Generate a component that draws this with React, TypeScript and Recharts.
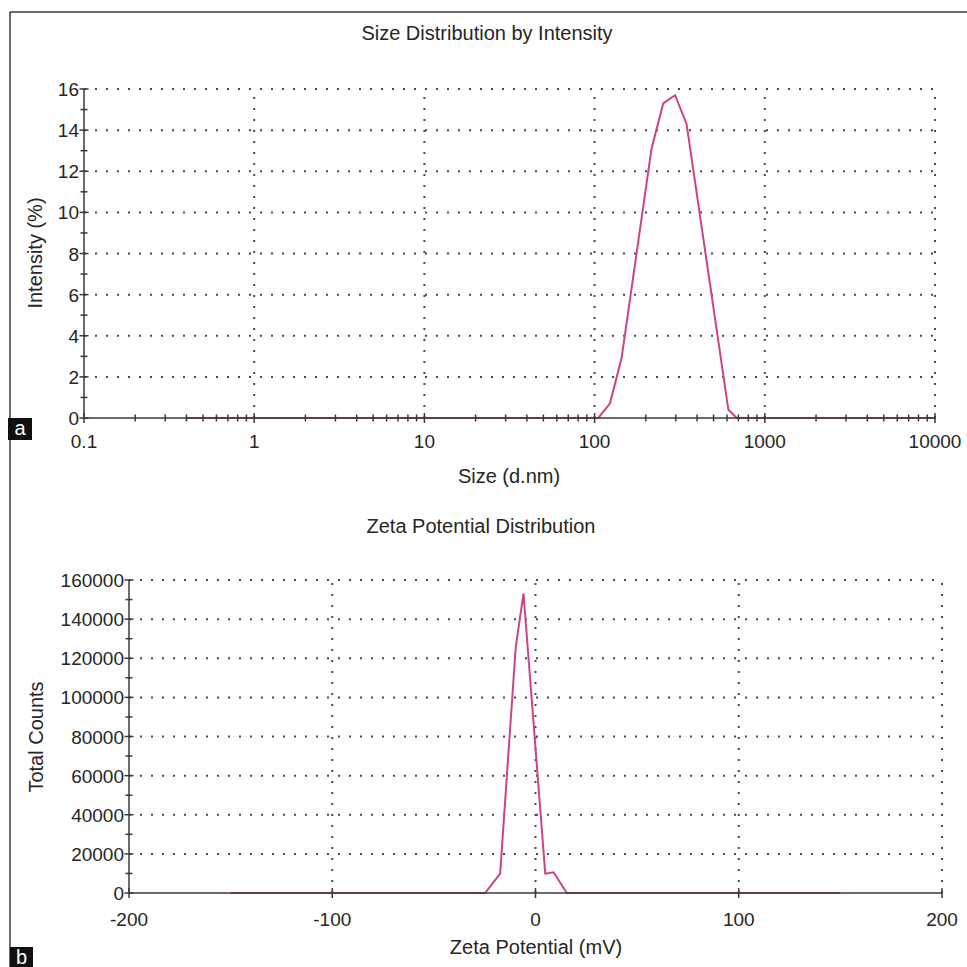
import React from "react";
import { LineChart, Line, XAxis, YAxis, ReferenceLine } from "recharts";

// ---- Chart a: Size distribution by intensity ----
const sizeNm = [0.4, 105, 123, 144, 216, 253, 297, 347, 611, 684, 10000];
const intensityPct = [0, 0, 0.7, 2.9, 13.1, 15.3, 15.7, 14.3, 0.4, 0, 0];
const sizeMajorTicks = [0.1, 1, 10, 100, 1000, 10000];
const sizeMinorFactors = [2, 3, 4, 5, 6, 7, 8, 9];
const intensityMajorTicks = [0, 2, 4, 6, 8, 10, 12, 14, 16];
const intensityMinorTicks = [1, 3, 5, 7, 9, 11, 13, 15];

// ---- Chart b: Zeta potential distribution ----
const zetaMv = [-150, -24.8, -17.4, -9.7, -5.9, 4.8, 8.9, 15.4, 150];
const totalCounts = [0, 0, 9900, 126000, 153000, 9900, 10600, 0, 0];
const zetaTicks = [-200, -100, 0, 100, 200];
const countMajorTicks = [0, 20000, 40000, 60000, 80000, 100000, 120000, 140000, 160000];
const countMinorTicks = [10000, 30000, 50000, 70000, 90000, 110000, 130000, 150000];

const sizeMinorTicks = sizeMajorTicks
  .slice(0, -1)
  .flatMap((d) => sizeMinorFactors.map((f) => +(d * f).toPrecision(6)));
const sizeAllTicks = [...sizeMajorTicks, ...sizeMinorTicks].sort((a, b) => a - b);
const intensityAllTicks = [...intensityMajorTicks, ...intensityMinorTicks].sort((a, b) => a - b);
const countAllTicks = [...countMajorTicks, ...countMinorTicks].sort((a, b) => a - b);

const sizeData = sizeNm.map((s, i) => ({ size: s, intensity: intensityPct[i] }));
const zetaData = zetaMv.map((z, i) => ({ zeta: z, counts: totalCounts[i] }));

const FONT = "'Liberation Sans', Arial, Helvetica, sans-serif";
const TXT = "#262626";
const AX = "#3a3a3a";
const GRID = "#4a4a4a";
const LINE = "#cc4488";
const TICK_FS = 19;
const TITLE_FS = 20;

function makeXTick(majors: number[], baselineOffset: number, withMinor: boolean) {
  return (props: any) => {
    const { x, y, payload } = props;
    const v = payload.value;
    const major = majors.includes(v);
    if (!major && !withMinor) return <g />;
    const h = major ? 5 : 3.5;
    return (
      <g>
        <line x1={x} x2={x} y1={y - h} y2={y + h} stroke={AX} strokeWidth={1.5} />
        {major && (
          <text x={x} y={y + baselineOffset} textAnchor="middle" fontSize={TICK_FS} fontFamily={FONT} fill={TXT}>
            {String(v)}
          </text>
        )}
      </g>
    );
  };
}

function makeYTick(majors: number[]) {
  return (props: any) => {
    const { x, y, payload } = props;
    const v = payload.value;
    const major = majors.includes(v);
    const h = major ? 4.5 : 3.5;
    return (
      <g>
        <line x1={x - h} x2={x + h} y1={y} y2={y} stroke={AX} strokeWidth={1.5} />
        {major && (
          <text x={x - 5} y={y + 7} textAnchor="end" fontSize={TICK_FS} fontFamily={FONT} fill={TXT}>
            {String(v)}
          </text>
        )}
      </g>
    );
  };
}

const gridProps = { stroke: GRID, strokeWidth: 2, strokeDasharray: "2 9" };

export default function App() {
  return (
    <div style={{ position: "absolute", left: 0, top: 0, width: 967, height: 967, background: "#fff" }}>
      <div style={{ position: "absolute", left: 0, top: 0 }}>
        <LineChart width={967} height={500} data={sizeData} margin={{ top: 89, right: 32, bottom: 0, left: 0 }}>
          <XAxis
            dataKey="size"
            type="number"
            scale="log"
            domain={[0.1, 10000]}
            allowDataOverflow
            ticks={sizeAllTicks}
            interval={0}
            tickSize={0}
            tickMargin={0}
            tickLine={false}
            tick={makeXTick(sizeMajorTicks, 30, true)}
            axisLine={{ stroke: AX, strokeWidth: 1.5 }}
            height={82}
          />
          <YAxis
            type="number"
            domain={[0, 16]}
            ticks={intensityAllTicks}
            interval={0}
            tickSize={0}
            tickMargin={0}
            tickLine={false}
            tick={makeYTick(intensityMajorTicks)}
            axisLine={{ stroke: AX, strokeWidth: 1.5 }}
            width={84}
          />
          {intensityMajorTicks.slice(1).map((v) => (
            <ReferenceLine key={"h" + v} y={v} {...gridProps} />
          ))}
          {sizeMajorTicks.slice(1).map((v) => (
            <ReferenceLine key={"v" + v} x={v} {...gridProps} />
          ))}
          <Line type="linear" dataKey="intensity" stroke={LINE} strokeWidth={2} dot={false} isAnimationActive={false} />
        </LineChart>
      </div>
      <div style={{ position: "absolute", left: 0, top: 500 }}>
        <LineChart width={967} height={467} data={zetaData} margin={{ top: 80, right: 25, bottom: 0, left: 0 }}>
          <XAxis
            dataKey="zeta"
            type="number"
            domain={[-200, 200]}
            allowDataOverflow
            ticks={zetaTicks}
            interval={0}
            tickSize={0}
            tickMargin={0}
            tickLine={false}
            tick={makeXTick(zetaTicks, 33, false)}
            axisLine={{ stroke: AX, strokeWidth: 1.5 }}
            height={74}
          />
          <YAxis
            type="number"
            domain={[0, 160000]}
            ticks={countAllTicks}
            interval={0}
            tickSize={0}
            tickMargin={0}
            tickLine={false}
            tick={makeYTick(countMajorTicks)}
            axisLine={{ stroke: AX, strokeWidth: 1.5 }}
            width={129}
          />
          {countMajorTicks.slice(1).map((v) => (
            <ReferenceLine key={"h" + v} y={v} {...gridProps} />
          ))}
          {zetaTicks.slice(1).map((v) => (
            <ReferenceLine key={"v" + v} x={v} {...gridProps} />
          ))}
          <Line type="linear" dataKey="counts" stroke={LINE} strokeWidth={2} dot={false} isAnimationActive={false} />
        </LineChart>
      </div>
      <svg
        width={967}
        height={967}
        style={{ position: "absolute", left: 0, top: 0, pointerEvents: "none" }}
        fontFamily={FONT}
      >
        <line x1={10} y1={12} x2={967} y2={12} stroke={AX} strokeWidth={1.5} />
        <line x1={10} y1={12} x2={10} y2={967} stroke={AX} strokeWidth={1.5} />
        <text x={487} y={40} textAnchor="middle" fontSize={TITLE_FS} fill={TXT}>
          Size Distribution by Intensity
        </text>
        <text transform="translate(42,253) rotate(-90)" textAnchor="middle" fontSize={TITLE_FS} fill={TXT}>
          Intensity (%)
        </text>
        <text x={509} y={483} textAnchor="middle" fontSize={TITLE_FS} fill={TXT}>
          Size (d.nm)
        </text>
        <text x={481} y={533} textAnchor="middle" fontSize={TITLE_FS} fill={TXT}>
          Zeta Potential Distribution
        </text>
        <text transform="translate(43,737) rotate(-90)" textAnchor="middle" fontSize={TITLE_FS} fill={TXT}>
          Total Counts
        </text>
        <text x={536} y={954} textAnchor="middle" fontSize={TITLE_FS} fill={TXT}>
          Zeta Potential (mV)
        </text>
        <rect x={8} y={418} width={24} height={22} fill="#111" />
        <text x={20} y={435} textAnchor="middle" fontSize={20} fill="#fff">
          a
        </text>
        <rect x={10} y={947} width={23} height={22} fill="#111" />
        <text x={21.5} y={964} textAnchor="middle" fontSize={20} fill="#fff">
          b
        </text>
      </svg>
    </div>
  );
}
